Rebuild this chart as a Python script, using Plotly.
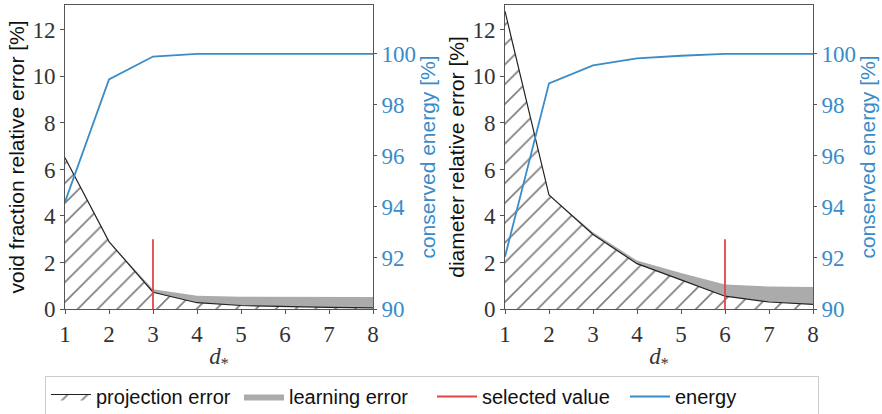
import plotly.graph_objects as go
from plotly.subplots import make_subplots

d_star = [1, 2, 3, 4, 5, 6, 7, 8]

# void fraction (left panel)
void_projection = [6.5, 2.9, 0.72, 0.27, 0.15, 0.1, 0.07, 0.05]
void_total = [6.5, 2.9, 0.85, 0.57, 0.53, 0.52, 0.52, 0.52]
void_energy = [94.2, 99.0, 99.9, 100.0, 100.0, 100.0, 100.0, 100.0]
void_selected = 3

# diameter (right panel)
diam_projection = [12.8, 4.9, 3.2, 1.95, 1.25, 0.55, 0.3, 0.2]
diam_total = [12.8, 4.9, 3.3, 2.08, 1.55, 1.05, 0.97, 0.95]
diam_energy = [92.05, 98.85, 99.55, 99.83, 99.93, 100.0, 100.0, 100.0]
diam_selected = 6
selected_height = 3

BLUE = '#3a8cc8'
RED = '#e04646'
GRAY = '#ababab'
SERIF = 'Liberation Serif'
SANS = 'Liberation Sans Narrow, Liberation Sans, sans-serif'

fig = make_subplots(rows=1, cols=2, specs=[[{'secondary_y': True}, {'secondary_y': True}]])

panels = [
    (1, void_projection, void_total, void_energy, void_selected, 'void fraction relative error [%]'),
    (2, diam_projection, diam_total, diam_energy, diam_selected, 'diameter relative error [%]'),
]

for col, proj, total, energy, sel, ytitle in panels:
    first = col == 1
    fig.add_trace(go.Scatter(
        x=d_star, y=proj, mode='lines', name='projection error',
        line=dict(color='#222222', width=1.2), fill='tozeroy', fillcolor='white',
        fillpattern=dict(shape='/', fgcolor='black', bgcolor='white', size=14, solidity=0.12),
        showlegend=first, legendrank=1,
    ), row=1, col=col, secondary_y=False)
    fig.add_trace(go.Scatter(
        x=d_star, y=total, mode='lines', name='learning error',
        line=dict(color=GRAY, width=0), fill='tonexty', fillcolor=GRAY,
        showlegend=first, legendrank=2,
    ), row=1, col=col, secondary_y=False)
    fig.add_trace(go.Scatter(
        x=[sel, sel], y=[0, selected_height], mode='lines', name='selected value',
        line=dict(color=RED, width=1.8), showlegend=first, legendrank=3,
    ), row=1, col=col, secondary_y=False)
    fig.add_trace(go.Scatter(
        x=d_star, y=energy, mode='lines', name='energy',
        line=dict(color=BLUE, width=1.8), showlegend=first, legendrank=4,
    ), row=1, col=col, secondary_y=True)

    fig.update_yaxes(
        title=dict(text=ytitle, font=dict(family=SANS, size=21, color='#111111'), standoff=2),
        range=[0, 13.07], tickvals=[0, 2, 4, 6, 8, 10, 12],
        tickfont=dict(family=SERIF, size=23, color='#333333'),
        ticks='outside', ticklen=4, tickcolor='#555555', automargin=False,
        showline=True, linecolor='#555555', linewidth=1, showgrid=False, zeroline=False,
        row=1, col=col, secondary_y=False)
    fig.update_yaxes(
        title=dict(text='conserved energy [%]', font=dict(family=SANS, size=21, color=BLUE), standoff=0),
        range=[90, 101.92], tickvals=[90, 92, 94, 96, 98, 100],
        tickfont=dict(family=SERIF, size=23, color=BLUE),
        ticks='outside', ticklen=3, tickcolor='#555555', automargin=False,
        showline=True, linecolor='#555555', linewidth=1, showgrid=False, zeroline=False,
        row=1, col=col, secondary_y=True)
    fig.update_xaxes(
        title=dict(text='<i>d</i><sub>*</sub>', font=dict(family=SERIF, size=23, color='#333333'), standoff=2),
        range=[1, 8], tickvals=d_star,
        tickfont=dict(family=SERIF, size=23, color='#333333'),
        ticks='outside', ticklen=4, tickcolor='#555555', automargin=False,
        showline=True, linecolor='#555555', linewidth=1, mirror=True, showgrid=False, zeroline=False,
        row=1, col=col)

fig.update_layout(
    width=882, height=414,
    margin=dict(l=0, r=0, t=0, b=0, autoexpand=False),
    plot_bgcolor='white', paper_bgcolor='white',
    xaxis=dict(domain=[65 / 882, 373 / 882]),
    xaxis2=dict(domain=[505 / 882, 813 / 882]),
    yaxis=dict(domain=[1 - 309 / 414, 1 - 5 / 414]),
    yaxis3=dict(domain=[1 - 309 / 414, 1 - 5 / 414]),
    legend=dict(
        orientation='h', x=432 / 882, xanchor='center', y=1 - 376 / 414, yanchor='top',
        bordercolor='#cccccc', borderwidth=1, bgcolor='white',
        font=dict(family=SANS, size=20, color='#111111'),
        traceorder='normal', itemwidth=40, entrywidth=138,
    ),
)

fig.write_html('out.html', config={'displayModeBar': False},
               post_script="document.body.style.margin='0';")
